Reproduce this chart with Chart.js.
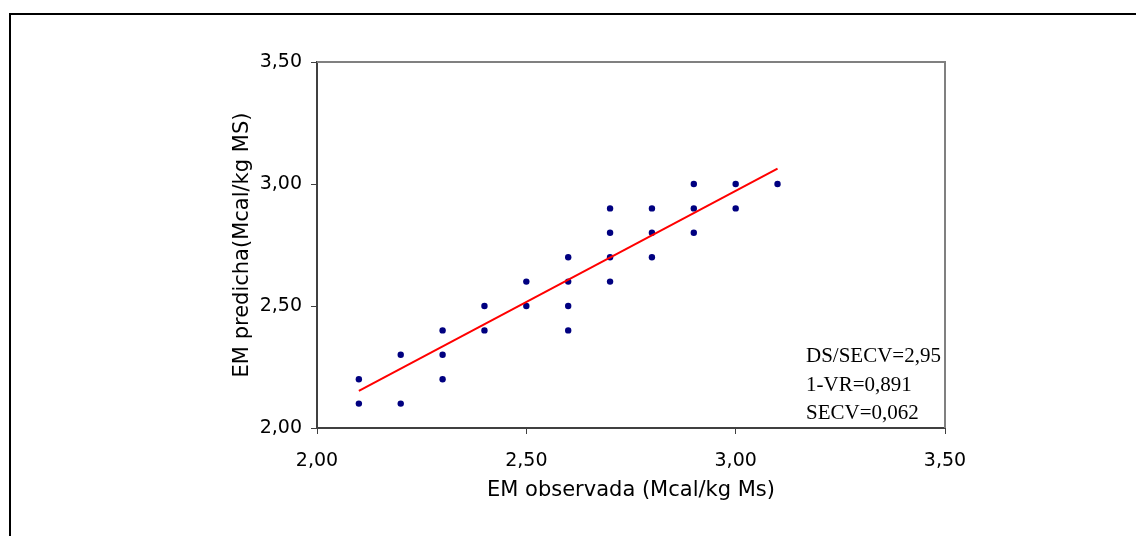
<!DOCTYPE html>
<html>
<head>
<meta charset="utf-8">
<script src="https://cdn.jsdelivr.net/npm/chart.js@4.4.1/dist/chart.umd.min.js"></script>
<style>
  html, body { margin: 0; padding: 0; background: #fff; overflow: hidden; }
  #wrap { position: relative; width: 1136px; height: 536px; }
  #frame { position: absolute; left: 9px; top: 13px; width: 1200px; height: 600px;
           border-left: 2px solid #000; border-top: 2px solid #000; }
  canvas { position: absolute; left: 0; top: 0; }
</style>
</head>
<body>
<div id="wrap">
  <div id="frame"></div>
  <canvas id="chart" width="1136" height="536"></canvas>
</div>
<script>
// observed vs predicted EM (Mcal/kg MS)
const xObs  = [2.1, 2.1, 2.2, 2.2, 2.3, 2.3, 2.3, 2.4, 2.4, 2.5, 2.5,
               2.6, 2.6, 2.6, 2.6, 2.7, 2.7, 2.7, 2.7, 2.8, 2.8, 2.8,
               2.9, 2.9, 2.9, 3.0, 3.0, 3.1];
const yPred = [2.2, 2.1, 2.3, 2.1, 2.4, 2.3, 2.2, 2.5, 2.4, 2.6, 2.5,
               2.7, 2.6, 2.5, 2.4, 2.9, 2.8, 2.7, 2.6, 2.9, 2.8, 2.7,
               3.0, 2.9, 2.8, 3.0, 2.9, 3.0];

// fitted line
const fitX = [2.1, 3.1];
const fitY = [2.152, 3.063];

const tickVals = [2.0, 2.5, 3.0, 3.5];
const tickLabels = ['2,00', '2,50', '3,00', '3,50'];

const stats = ['DS/SECV=2,95', '1-VR=0,891', 'SECV=0,062'];

const axisColor = '#404040';

function fmt(v) {
  const i = tickVals.findIndex(t => Math.abs(t - v) < 1e-6);
  return i >= 0 ? tickLabels[i] : '';
}

const extras = {
  id: 'extras',
  afterDraw(chart) {
    const { ctx, chartArea: a } = chart;
    ctx.save();
    // plot area border on top and right
    ctx.strokeStyle = '#808080';
    ctx.lineWidth = 2;
    ctx.beginPath();
    ctx.moveTo(a.left, a.top);
    ctx.lineTo(a.right, a.top);
    ctx.lineTo(a.right, a.bottom);
    ctx.stroke();
    // stats text
    ctx.fillStyle = '#000';
    ctx.font = '21px "Liberation Serif", "Times New Roman", serif';
    ctx.textAlign = 'left';
    ctx.textBaseline = 'alphabetic';
    stats.forEach((s, i) => {
      ctx.fillText(s, a.right - 139, a.bottom - 66 + i * 28.5);
    });
    ctx.restore();
  }
};

new Chart(document.getElementById('chart'), {
  type: 'scatter',
  data: {
    datasets: [
      {
        label: 'EM',
        data: xObs.map((x, i) => ({ x: x, y: yPred[i] })),
        backgroundColor: '#000080',
        borderWidth: 0,
        pointRadius: 3.2,
        order: 2
      },
      {
        type: 'line',
        label: 'ajuste',
        data: fitX.map((x, i) => ({ x: x, y: fitY[i] })),
        borderColor: '#ff0000',
        borderWidth: 2,
        pointRadius: 0,
        fill: false,
        order: 1
      }
    ]
  },
  options: {
    responsive: false,
    animation: false,
    devicePixelRatio: 1,
    layout: { padding: { left: 0, top: 62, right: 191, bottom: 0 } },
    plugins: {
      legend: { display: false },
      tooltip: { enabled: false }
    },
    scales: {
      x: {
        type: 'linear',
        min: 2, max: 3.5,
        afterFit: s => { s.height = 108; },
        afterBuildTicks: s => { s.ticks = tickVals.map(v => ({ value: v })); },
        grid: { drawOnChartArea: false, drawTicks: true, tickLength: 6, color: axisColor, lineWidth: 1 },
        border: { display: true, color: axisColor, width: 2 },
        ticks: {
          callback: v => fmt(v),
          color: '#000',
          padding: 16,
          maxRotation: 0,
          font: { family: '"DejaVu Sans", Arial, sans-serif', size: 19 }
        },
        title: {
          display: true,
          text: 'EM observada (Mcal/kg Ms)',
          color: '#000',
          padding: { top: 0, bottom: 33 },
          font: { family: '"DejaVu Sans", Arial, sans-serif', size: 21, lineHeight: 1.2 }
        }
      },
      y: {
        type: 'linear',
        min: 2, max: 3.5,
        afterFit: s => { s.width = 317; },
        afterBuildTicks: s => { s.ticks = tickVals.map(v => ({ value: v })); },
        grid: { drawOnChartArea: false, drawTicks: true, tickLength: 6, color: axisColor, lineWidth: 1 },
        border: { display: true, color: axisColor, width: 2 },
        ticks: {
          callback: v => fmt(v),
          color: '#000',
          padding: 9,
          font: { family: '"DejaVu Sans", Arial, sans-serif', size: 19 }
        },
        title: {
          display: true,
          text: 'EM predicha(Mcal/kg MS)',
          color: '#000',
          padding: { top: 230, bottom: 0 },
          font: { family: '"DejaVu Sans", Arial, sans-serif', size: 21, lineHeight: 1.2 }
        }
      }
    }
  },
  plugins: [extras]
});
</script>
</body>
</html>
